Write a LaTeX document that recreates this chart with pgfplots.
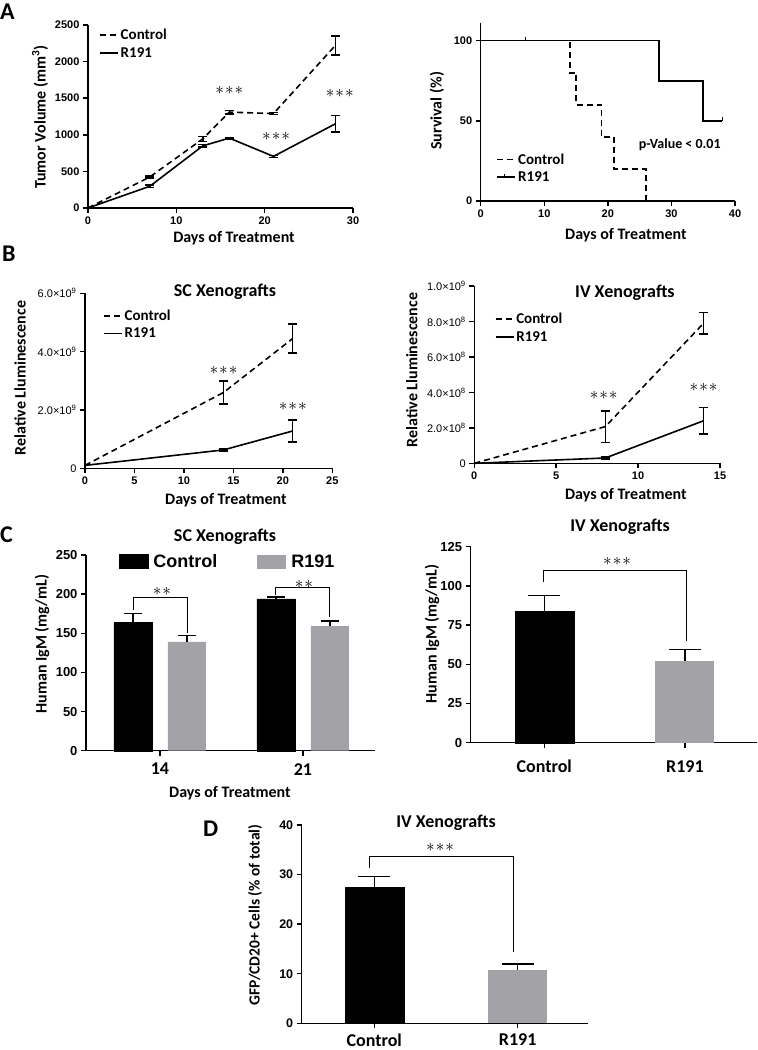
\documentclass[border=0pt]{standalone}
\usepackage{fontspec}
\setmainfont{Carlito}
\newfontfamily\arl{Liberation Sans}
\usepackage{pgfplots}
\pgfplotsset{compat=1.18}
\definecolor{barGray}{HTML}{A2A2A7}

\pgfplotsset{
  gp/.style={
    scale only axis, anchor=south west, clip=false,
    axis x line*=bottom, axis y line*=left,
    axis line style={line width=1.5pt},
    tick align=outside, major tick length=5pt,
    tick style={black, line width=1.5pt},
    /pgf/number format/assume math mode=true,
    /pgf/number format/1000 sep={},
    tick label style={font=\arl\bfseries\fontsize{11}{13}\selectfont},
    label style={font=\bfseries\fontsize{16}{18}\selectfont},
    legend style={draw=none, fill=none, font=\bfseries\fontsize{15}{17}\selectfont, row sep=2pt},
    legend cell align=left,
    legend image code/.code={\draw[##1] (0pt,0pt) -- (18pt,0pt);},
  },
  kmleg/.style={legend image code/.code={\draw[##1] (0pt,0pt) -- (18pt,0pt); \draw[line width=1.4pt] (7pt,0pt) -- (7pt,3pt);}},
  boxleg/.style={legend image code/.code={\fill[##1] (0pt,-7pt) rectangle (29pt,7pt);}},
  eb/.style={error bars/.cd, y dir=both, y explicit,
    error bar style={solid, line width=1.4pt},
    error mark options={rotate=90, mark size=4.5pt, line width=1.4pt, solid}},
  ctl/.style={black, line width=1.6pt, dash pattern=on 6pt off 4pt, no markers},
  rsg/.style={black, line width=1.6pt, solid, no markers},
  bareb/.style={error bars/.cd, y dir=plus, y explicit,
    error bar style={black, line width=1.4pt},
    error mark options={rotate=90, mark size=#1, line width=1.4pt}},
  bareb/.default=9pt,
}
\tikzset{
  ttl/.style={inner sep=0pt, font=\bfseries\fontsize{18}{20}\selectfont},
  stars/.style={inner sep=0pt, font=\fontsize{16}{16}\selectfont},
  brk/.style={line width=1pt},
}
\newcommand\threestar{${\ast}\mkern1mu{\ast}\mkern1mu{\ast}$}
\newcommand\twostar{${\ast}\mkern1mu{\ast}$}

\begin{document}
\begin{tikzpicture}
\useasboundingbox (0pt,0pt) rectangle (758pt,-1050pt);

% panel letters
\node[anchor=north west, inner sep=0pt, font=\bfseries\fontsize{24}{24}\selectfont] at (0pt,-4pt) {A};
\node[anchor=north west, inner sep=0pt, font=\bfseries\fontsize{24}{24}\selectfont] at (2pt,-246pt) {B};
\node[anchor=north west, inner sep=0pt, font=\bfseries\fontsize{24}{24}\selectfont] at (0pt,-527pt) {C};
\node[anchor=north west, inner sep=0pt, font=\bfseries\fontsize{24}{24}\selectfont] at (203pt,-821pt) {D};

% A left: tumor volume
\begin{axis}[gp, at={(88pt,-208pt)}, width=265pt, height=183pt,
  xmin=0, xmax=30, ymin=0, ymax=2500,
  xtick={0,10,20,30}, ytick={0,500,1000,1500,2000,2500},
  xlabel={Days of Treatment}, ylabel={Tumor Volume (mm\textsuperscript{3})},
  xlabel style={at={(axis description cs:0.551,-0.164)}, anchor=center},
  ylabel style={at={(axis description cs:-0.181,0.497)}, anchor=center},
  legend style={at={(0.03,1.0)}, anchor=north west}]
\addplot[ctl, eb] coordinates {(0,0) (7,424) +- (0,15) (13,945) +- (0,35) (16,1310) +- (0,25) (21,1290) +- (0,15) (28,2220) +- (0,130)};
\addplot[rsg, eb] coordinates {(0,0) (7,297) +- (0,15) (13,849) +- (0,15) (16,955) +- (0,12) (21,705) +- (0,15) (28,1150) +- (0,110)};
\legend{Control, R191}
\node[stars] at (axis cs:16,1610) {\threestar};
\node[stars] at (axis cs:21.3,981) {\threestar};
\node[stars] at (axis cs:28.5,1565) {\threestar};
\end{axis}

% A right: survival
\begin{axis}[gp, at={(480.7pt,-201pt)}, width=254.3pt, height=178pt,
  xmin=0, xmax=40, ymin=0, ymax=111,
  xtick={0,10,20,30,40}, ytick={0,50,100},
  xlabel={Days of Treatment}, ylabel={Survival (\%)},
  xlabel style={at={(axis description cs:0.571,-0.191)}, anchor=center},
  ylabel style={at={(axis description cs:-0.172,0.506)}, anchor=center},
  legend style={at={(0.05,0.29)}, anchor=north west}]
\addplot[ctl, const plot] coordinates {(0,100) (14,80) (15,60) (19,40) (21,20) (26,0)};
\addplot[rsg, const plot, kmleg] coordinates {(0,100) (28,75) (35,50) (38,50)};
\addplot[black, line width=1.4pt, only marks, mark=|, mark size=2pt, mark options={yshift=2pt}, forget plot] coordinates {(7,100) (38,50)};
\legend{Control, R191}
\node[font=\bfseries\fontsize{14}{16}\selectfont] at (axis cs:31.3,35) {p-Value < 0.01};
\end{axis}

% B left: SC luminescence
\begin{axis}[gp, at={(85pt,-468.3pt)}, width=247.3pt, height=175pt,
  xmin=0, xmax=25, ymin=0, ymax=6,
  xtick={0,5,10,15,20,25}, ytick={0,2,4,6},
  yticklabels={0,{2.0×10\textsuperscript{9}},{4.0×10\textsuperscript{9}},{6.0×10\textsuperscript{9}}},
  yticklabel style={font=\arl\fontsize{11}{13}\selectfont},
  xlabel={Days of Treatment}, ylabel={Relative Lluminescence},
  xlabel style={at={(axis description cs:0.570,-0.181)}, anchor=center},
  ylabel style={at={(axis description cs:-0.263,0.516)}, anchor=center},
  legend style={at={(0.06,0.93)}, anchor=north west}]
\addplot[ctl, eb] coordinates {(0,0.1) (14,2.6) +- (0,0.4) (21,4.45) +- (0,0.5)};
\addplot[rsg, eb] coordinates {(0,0.1) (14,0.63) +- (0,0.03) (21,1.28) +- (0,0.38)};
\legend{Control, R191}
\node[ttl] at (rel axis cs:0.566,1.007) {SC Xenografts};
\node[stars] at (axis cs:14,3.37) {\threestar};
\node[stars] at (axis cs:21,2.11) {\threestar};
\end{axis}

% B right: IV luminescence
\begin{axis}[gp, at={(474.3pt,-463.3pt)}, width=245.7pt, height=177.3pt,
  xmin=0, xmax=15, ymin=0, ymax=10,
  xtick={0,5,10,15}, ytick={0,2,4,6,8,10},
  yticklabels={0,{2.0×10\textsuperscript{8}},{4.0×10\textsuperscript{8}},{6.0×10\textsuperscript{8}},{8.0×10\textsuperscript{8}},{1.0×10\textsuperscript{9}}},
  yticklabel style={font=\arl\fontsize{11}{13}\selectfont},
  xlabel={Days of Treatment}, ylabel={Relative Lluminescence},
  xlabel style={at={(axis description cs:0.617,-0.179)}, anchor=center},
  ylabel style={at={(axis description cs:-0.254,0.526)}, anchor=center},
  legend style={at={(0.07,0.87)}, anchor=north west}]
\addplot[ctl, eb] coordinates {(0,0) (8,2.07) +- (0,0.88) (14,7.9) +- (0,0.6)};
\addplot[rsg, eb] coordinates {(0,0) (8,0.3) +- (0,0.05) (14,2.4) +- (0,0.75)};
\legend{Control, R191}
\node[ttl] at (rel axis cs:0.613,0.96) {IV Xenografts};
\node[stars] at (axis cs:7.9,3.85) {\threestar};
\node[stars] at (axis cs:14,4.27) {\threestar};
\end{axis}

% C left: SC IgM
\begin{axis}[gp, at={(86pt,-750.7pt)}, width=289pt, height=195.7pt,
  ybar=16pt, bar width=38pt,
  xmin=-0.517, xmax=1.504, ymin=0, ymax=250,
  xtick={0,1}, xticklabels={14,21}, ytick={0,50,100,150,200,250},
  yticklabel style={font=\arl\bfseries\fontsize{13}{15}\selectfont},
  xticklabel style={font=\bfseries\fontsize{18}{20}\selectfont, yshift=-4pt},
  xlabel={Days of Treatment}, ylabel={Human IgM (mg/mL)},
  xlabel style={at={(axis description cs:0.498,-0.216)}, anchor=center},
  ylabel style={at={(axis description cs:-0.152,0.545)}, anchor=center},
  legend columns=2,
  legend style={at={(0.11,1.02)}, anchor=north west, font=\arl\bfseries\fontsize{18}{20}\selectfont,
    inner sep=1pt,
    /tikz/every odd column/.append style={column sep=3pt},
    /tikz/every even column/.append style={column sep=38pt}},
  boxleg]
\addplot[fill=black, draw=black, bareb] coordinates {(0,164) +- (0,11) (1,194) +- (0,2.5)};
\addplot[fill=barGray, draw=none, bareb] coordinates {(0,139) +- (0,8) (1,159) +- (0,6.5)};
\legend{Control, R191}
\node[ttl] at (rel axis cs:0.481,1.092) {SC Xenografts};
\draw[brk] (axis cs:-0.188,179.7) -- (axis cs:-0.188,196.3) -- (axis cs:0.196,196.3) -- (axis cs:0.196,150.3);
\node[stars] at (axis cs:0.014,203) {\twostar};
\draw[brk] (axis cs:0.810,198.9) -- (axis cs:0.810,208.5) -- (axis cs:1.185,208.5) -- (axis cs:1.185,170.4);
\node[stars] at (axis cs:1.007,212) {\twostar};
\end{axis}

% C right: IV IgM
\begin{axis}[gp, at={(470.7pt,-742.7pt)}, width=286pt, height=196pt,
  ybar, bar width=59pt,
  xmin=-0.523, xmax=1.510, ymin=0, ymax=125,
  xtick={0,1}, xticklabels={Control,R191}, ytick={0,25,50,75,100,125},
  yticklabel style={font=\arl\bfseries\fontsize{13}{15}\selectfont},
  xticklabel style={font=\bfseries\fontsize{18}{20}\selectfont, yshift=-9pt},
  ylabel={Human IgM (mg/mL)},
  ylabel style={at={(axis description cs:-0.135,0.555)}, anchor=center}]
\addplot[fill=black, draw=black, bar shift=0pt, bareb=16pt] coordinates {(0,84) +- (0,10)};
\addplot[fill=barGray, draw=none, bar shift=0pt, bareb=16pt] coordinates {(1,52) +- (0,7.5)};
\node[ttl] at (rel axis cs:0.522,1.10) {IV Xenografts};
\draw[brk] (axis cs:-0.009,102.7) -- (axis cs:-0.009,110.1) -- (axis cs:1.014,110.1) -- (axis cs:1.014,65);
\node[stars] at (axis cs:0.518,115.4) {\threestar};
\end{axis}

% D: GFP/CD20+ cells
\begin{axis}[gp, at={(301.7pt,-1023.3pt)}, width=286.3pt, height=198.3pt,
  ybar, bar width=59pt,
  xmin=-0.506, xmax=1.490, ymin=0, ymax=40,
  xtick={0,1}, xticklabels={Control,R191}, ytick={0,10,20,30,40},
  yticklabel style={font=\arl\bfseries\fontsize{12.5}{15}\selectfont},
  xticklabel style={font=\bfseries\fontsize{18}{20}\selectfont, yshift=-2pt},
  ylabel={GFP/CD20+ Cells (\% of total)},
  ylabel style={at={(axis description cs:-0.163,0.546)}, anchor=center, font=\bfseries\fontsize{15.5}{17}\selectfont}]
\addplot[fill=black, draw=black, bar shift=0pt, bareb=16pt] coordinates {(0,27.4) +- (0,2.2)};
\addplot[fill=barGray, draw=none, bar shift=0pt, bareb=16pt] coordinates {(1,10.8) +- (0,1.2)};
\node[ttl] at (rel axis cs:0.504,1.012) {IV Xenografts};
\draw[brk] (axis cs:-0.03,31.3) -- (axis cs:-0.03,33.6) -- (axis cs:0.97,33.6) -- (axis cs:0.97,14.4);
\node[stars] at (axis cs:0.459,35.4) {\threestar};
\end{axis}
\end{tikzpicture}
\end{document}
